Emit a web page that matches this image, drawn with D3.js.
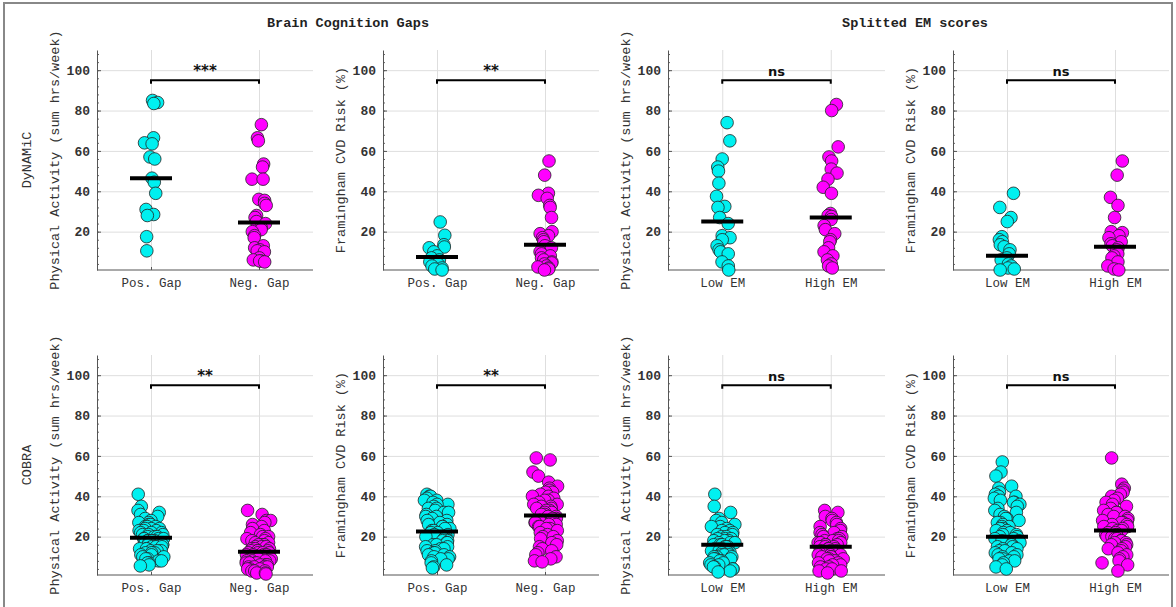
<!DOCTYPE html>
<html>
<head>
<meta charset="utf-8">
<script src="https://cdn.jsdelivr.net/npm/d3@7.9.0/dist/d3.min.js"></script>
<style>
  body { margin: 0; background: #fff; }
  svg { display: block; }
  text { font-family: "Liberation Mono", "Courier New", monospace; fill: #333; }
</style>
</head>
<body>
<svg id="chart" width="1176" height="607"></svg>
<script>
// ---- data ----
const gapGroups = ["Pos. Gap", "Neg. Gap"];
const emGroups = ["Low EM", "High EM"];
const colTitles = ["Brain Cognition Gaps", "Splitted EM scores"];
const rowNames = ["DyNAMiC", "COBRA"];
const paLabel = "Physical Activity (sum hrs/week)";
const cvdLabel = "Framingham CVD Risk (%)";
const yTicks = [20, 40, 60, 80, 100];

// DyNAMiC
const dynPA_pos = [85, 84, 83.5, 66.5, 64, 63.5, 57, 56, 46.5, 44.5, 39, 31, 28.5, 28, 17.5, 10.5];
const dynPA_neg = [73, 66.5, 65, 53.5, 52, 46, 46, 36, 35.5, 34, 33, 28, 27, 25, 24, 22, 21, 20, 18, 17, 13, 12, 11, 10.5, 10, 7, 6, 5.5, 5.5, 5];
const dynCVD_pos = [24.8, 18.2, 13.5, 12.4, 12, 10, 8, 7, 6, 5, 4, 3, 2, 1.5, 1];
const dynCVD_neg = [55, 48, 39, 38, 36.5, 33, 32, 27, 20, 19, 18, 17, 16, 15, 13, 12, 10, 9, 8, 7, 6, 5, 4.5, 4, 3, 2.5, 2, 1.5, 1];
const dynPA_low = [74, 65, 56, 52, 50, 44, 37.5, 32.5, 32, 27, 24, 18, 17, 16, 13, 11, 10, 9, 5, 3, 1];
const dynPA_high = [83, 80, 62, 57, 55, 51, 49, 46, 42, 39, 29, 28, 27.5, 26, 23, 21, 19, 16, 15, 12, 10, 8, 6, 4, 3, 2];
const dynCVD_low = [39, 32, 27, 25, 17.5, 16, 15, 13.5, 12.5, 11, 9, 7, 6, 4, 3, 2, 1.5, 1];
const dynCVD_high = [55, 48, 37, 33, 27, 20, 19.5, 18, 17, 15, 14, 13, 12, 11, 9, 8, 7, 5, 3, 1.5, 1];

// COBRA
const cobPA_pos = [41, 35, 33, 32, 31, 30, 29, 28, 27, 27, 26, 26, 25, 25, 25, 24, 24, 24, 23, 23, 23, 22, 22, 22, 21, 21, 21, 20, 20, 20, 20, 19, 19, 19, 19, 18, 18, 18, 18, 17, 17, 17, 16, 16, 16, 15, 15, 15, 14, 14, 14, 13, 13, 13, 12, 12, 12, 11, 11, 10, 10, 9, 9, 8, 8, 7, 7, 6, 5.5];
const cobPA_neg = [33, 31, 28, 28, 27, 26, 25, 24, 23, 22, 21, 20, 20, 19, 19, 18, 18, 17, 17, 16, 16, 16, 15, 15, 15, 14, 14, 14, 13, 13, 13, 13, 12, 12, 12, 12, 11, 11, 11, 11, 10, 10, 10, 10, 9, 9, 9, 9, 8, 8, 8, 8, 7, 7, 7, 7, 6, 6, 6, 6, 5, 5, 5, 5, 4, 4, 4, 3, 3, 3, 2, 2, 1.5];
const cobCVD_pos = [41, 40, 40, 39, 38, 38, 37, 36, 36, 35, 34, 34, 33, 32, 32, 31, 30, 30, 29, 28, 28, 27, 26, 26, 25, 25, 24, 24, 23, 23, 22, 22, 21, 21, 20, 20, 19, 19, 18, 18, 17, 17, 16, 16, 15, 15, 14, 14, 13, 13, 12, 12, 11, 11, 10, 10, 9, 9, 8, 7, 6, 5, 4.5];
const cobCVD_neg = [59, 58, 52, 50, 47, 45, 44, 43, 42, 42, 41, 40, 40, 39, 38, 38, 37, 36, 36, 35, 35, 34, 34, 33, 33, 32, 32, 31, 31, 30, 30, 29, 29, 28, 28, 27, 27, 26, 26, 25, 25, 24, 24, 23, 22, 21, 20, 20, 19, 18, 17, 16, 15, 14, 13, 12, 11, 10, 9, 8, 7.5];
const cobPA_low = [41, 35, 32, 29, 28, 27, 26, 25, 25, 24, 23, 23, 22, 22, 21, 21, 20, 20, 19, 19, 19, 18, 18, 18, 17, 17, 17, 16, 16, 16, 15, 15, 15, 14, 14, 14, 13, 13, 13, 12, 12, 12, 11, 11, 11, 10, 10, 10, 9, 9, 9, 8, 8, 7, 7, 6, 6, 5, 5, 4, 4, 3, 2.5];
const cobPA_high = [33, 32, 30, 29, 28, 27, 26, 25, 24, 23, 22, 22, 21, 20, 20, 19, 19, 18, 18, 18, 17, 17, 17, 16, 16, 16, 15, 15, 15, 14, 14, 14, 13, 13, 13, 12, 12, 12, 11, 11, 11, 10, 10, 10, 9, 9, 9, 8, 8, 7, 7, 6, 6, 5, 5, 4, 4, 3, 3, 2];
const cobCVD_low = [57, 52, 50, 45, 44, 42, 41, 40, 40, 39, 38, 37, 37, 36, 35, 34, 33, 32, 31, 30, 29, 29, 28, 27, 27, 26, 25, 25, 24, 24, 23, 23, 22, 22, 21, 21, 20, 20, 19, 19, 18, 18, 17, 17, 16, 16, 15, 15, 14, 14, 13, 13, 12, 12, 11, 11, 10, 10, 9, 9, 8, 8, 7, 6, 5, 4];
const cobCVD_high = [59, 46, 44, 43, 42, 41, 40, 39, 38, 37, 36, 35, 34, 33, 32, 32, 31, 30, 30, 29, 28, 28, 27, 27, 26, 26, 25, 25, 24, 24, 23, 23, 22, 22, 21, 21, 20, 20, 19, 19, 18, 18, 17, 17, 16, 16, 15, 14, 14, 13, 12, 11, 10, 9, 8, 7, 6, 3];

// group centre lines (as drawn), per row, per panel: [group1, group2]
const dynCentres = [[46.5, 24.5], [7.5, 13.5], [25, 27], [8, 12.5]];
const cobCentres = [[19.5, 12.5], [22.5, 30.5], [16, 15], [20, 23]];
const dynSig = ["***", "**", "ns", "ns"];
const cobSig = ["**", "**", "ns", "ns"];

// ---- layout ----
const svg = d3.select("#chart");
const colX = [[97, 313], [383, 599], [668, 885], [953, 1169]];
const rowY = [[50, 270], [355, 575]];
const colors = ["#00f0f0", "#ff00ff"];

svg.append("rect").attr("x", 4).attr("y", 3).attr("width", 1168).attr("height", 640)
  .attr("fill", "none").attr("stroke", "#888").attr("stroke-width", 2);

const rows = [
  { name: rowNames[0], sig: dynSig, centres: dynCentres,
    sets: [[dynPA_pos, dynPA_neg], [dynCVD_pos, dynCVD_neg], [dynPA_low, dynPA_high], [dynCVD_low, dynCVD_high]], jit: 8 },
  { name: rowNames[1], sig: cobSig, centres: cobCentres,
    sets: [[cobPA_pos, cobPA_neg], [cobCVD_pos, cobCVD_neg], [cobPA_low, cobPA_high], [cobCVD_low, cobCVD_high]], jit: 13 }
];
const panelGroups = [gapGroups, gapGroups, emGroups, emGroups];
const panelLabels = [paLabel, cvdLabel, paLabel, cvdLabel];

// column titles
svg.append("text").attr("x", (colX[0][0] + colX[1][1]) / 2).attr("y", 27)
  .attr("text-anchor", "middle").style("font-size", "13.5px").style("font-weight", "bold").style("fill", "#222")
  .text(colTitles[0]);
svg.append("text").attr("x", 915).attr("y", 27)
  .attr("text-anchor", "middle").style("font-size", "13.5px").style("font-weight", "bold").style("fill", "#222")
  .text(colTitles[1]);

let seed = 7;
rows.forEach((row, r) => {
  const [top, bottom] = rowY[r];
  const y = d3.scaleLinear().domain([1, 110]).range([bottom, top]);

  svg.append("text")
    .attr("transform", `translate(27,${(top + bottom) / 2}) rotate(-90)`)
    .attr("text-anchor", "middle").attr("dominant-baseline", "middle")
    .style("font-size", "13.5px").text(row.name);

  row.sets.forEach((pair, c) => {
    const [x0, x1] = colX[c];
    const x = d3.scaleLinear().domain([0.5, 2.5]).range([x0, x1]);
    const g = svg.append("g");

    // grid
    g.append("g").attr("transform", `translate(${x0},0)`)
      .call(d3.axisLeft(y).tickValues(yTicks).tickSize(-(x1 - x0)).tickFormat(""))
      .call(s => s.select(".domain").remove())
      .call(s => s.selectAll("line").attr("stroke", "#dedede"));
    g.append("g").attr("transform", `translate(0,${bottom})`)
      .call(d3.axisBottom(x).tickValues([1, 2]).tickSize(-(bottom - top)).tickFormat(""))
      .call(s => s.select(".domain").remove())
      .call(s => s.selectAll("line").attr("stroke", "#dedede"));

    // minor ticks
    g.append("g").attr("transform", `translate(${x0},0)`)
      .call(d3.axisLeft(y).tickValues(d3.range(4, 109, 4)).tickSize(-2).tickFormat(""))
      .call(s => s.select(".domain").remove())
      .call(s => s.selectAll("line").attr("stroke", "#666"));

    // y axis
    g.append("g").attr("transform", `translate(${x0},0)`)
      .call(d3.axisLeft(y).tickValues(yTicks).tickSizeInner(-4).tickSizeOuter(0).tickPadding(7))
      .call(s => s.select(".domain").attr("stroke", "#555"))
      .call(s => s.selectAll("line").attr("stroke", "#555"))
      .call(s => s.selectAll("text").style("font-size", "13px").style("font-weight", "bold")
        .style("font-family", "'Liberation Mono', monospace").attr("fill", "#444"));

    // x axis
    g.append("g").attr("transform", `translate(0,${bottom})`)
      .call(d3.axisBottom(x).tickValues([1, 2]).tickFormat(i => panelGroups[c][i - 1])
        .tickSizeInner(-3).tickSizeOuter(0).tickPadding(8))
      .call(s => s.select(".domain").attr("stroke", "#555").attr("d", `M${x0},0H${x1}`))
      .call(s => s.selectAll("line").attr("stroke", "#555"))
      .call(s => s.selectAll("text").style("font-size", "12.5px")
        .style("font-family", "'Liberation Mono', monospace").attr("fill", "#333"));

    // y label
    g.append("text")
      .attr("transform", `translate(${x0 - 42},${(top + bottom) / 2}) rotate(-90)`)
      .attr("text-anchor", "middle").attr("dominant-baseline", "middle")
      .style("font-size", "13.5px").text(panelLabels[c]);

    // points
    pair.forEach((vals, k) => {
      const rand = d3.randomUniform.source(d3.randomLcg(seed++ / 97))(-row.jit, row.jit);
      g.append("g").selectAll("circle").data(vals).join("circle")
        .attr("cx", () => x(k + 1) + rand())
        .attr("cy", d => y(d))
        .attr("r", 6.3)
        .attr("fill", colors[k])
        .attr("stroke", "#222").attr("stroke-width", 0.8);
    });

    // centre bars
    row.centres[c].forEach((m, k) => {
      g.append("line")
        .attr("x1", x(k + 1) - 21).attr("x2", x(k + 1) + 21)
        .attr("y1", y(m)).attr("y2", y(m))
        .attr("stroke", "#000").attr("stroke-width", 4);
    });

    // significance bracket
    g.append("path")
      .attr("d", `M${x(1)},${y(93.3)}V${y(95)}H${x(2)}V${y(93.3)}`)
      .attr("fill", "none").attr("stroke", "#000").attr("stroke-width", 2);
    g.append("text")
      .attr("x", (x(1) + x(2)) / 2).attr("y", y(95) - 4)
      .attr("text-anchor", "middle")
      .style("font-family", "'DejaVu Sans', sans-serif")
      .style("font-size", row.sig[c] === "ns" ? "13px" : "15px").style("font-weight", "bold")
      .style("fill", "#111")
      .text(row.sig[c]);
  });
});
</script>
</body>
</html>
